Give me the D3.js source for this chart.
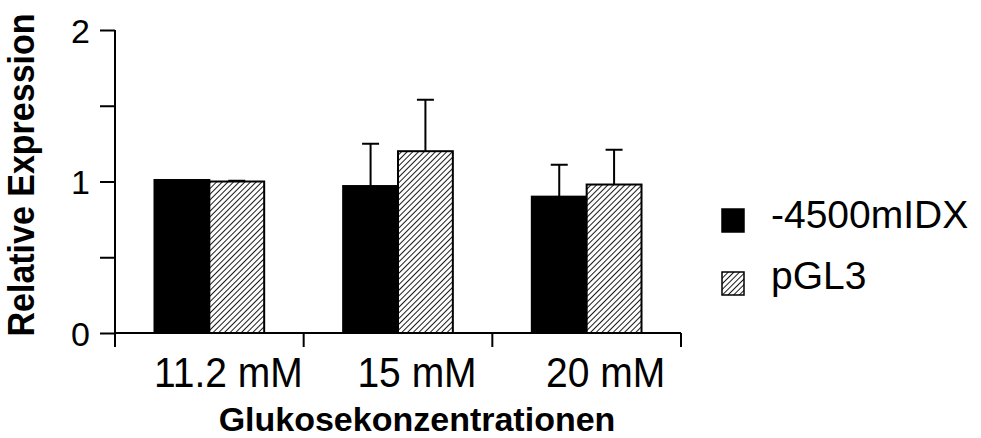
<!DOCTYPE html>
<html>
<head>
<meta charset="utf-8">
<script src="https://cdn.jsdelivr.net/npm/d3@7"></script>
<style>
  body { margin: 0; background: #fff; }
  text { font-family: "Liberation Sans", Arial, sans-serif; fill: #000; }
</style>
</head>
<body>
<div id="chart"></div>
<script>
// data
const categories = ["11.2 mM", "15 mM", "20 mM"];
const seriesNames = ["-4500mIDX", "pGL3"];
const idxValues = [1.01, 0.97, 0.90];
const idxErrors = [0.0, 0.28, 0.21];
const pglValues = [1.00, 1.20, 0.98];
const pglErrors = [0.005, 0.34, 0.23];
const yTicks = [0, 1, 2];
const yMinorTicks = [0.5, 1.5];

const width = 981, height = 438;
const margin = {top: 30, right: 300, bottom: 105, left: 115};
const labelShift = 19; // category labels sit a bit right of the band centre

const svg = d3.select("#chart")
  .append("svg")
  .attr("width", width)
  .attr("height", height);

// hatch pattern for pGL3
const defs = svg.append("defs");
const pat = defs.append("pattern")
  .attr("id", "hatch")
  .attr("patternUnits", "userSpaceOnUse")
  .attr("width", 4)
  .attr("height", 4)
  .attr("patternTransform", "rotate(45)");
pat.append("rect").attr("width", 4).attr("height", 4).attr("fill", "#fff");
pat.append("line")
  .attr("x1", 0).attr("y1", 0).attr("x2", 0).attr("y2", 4)
  .attr("stroke", "#000").attr("stroke-width", 1.8);

const rows = categories.map((c, i) => ({
  cat: c,
  vals: [
    {s: seriesNames[0], v: idxValues[i], e: idxErrors[i]},
    {s: seriesNames[1], v: pglValues[i], e: pglErrors[i]}
  ]
}));

/*
  Scales
*/
let yScale = d3.scaleLinear()
  .domain([0, 2])
  .range([height - margin.bottom, margin.top]);

let xScale = d3.scaleBand()
  .domain(categories)
  .range([margin.left, width - margin.right])
  .padding(0);

let x1 = d3.scaleBand()
  .domain(seriesNames)
  .range([0, xScale.bandwidth()])
  .paddingInner(0)
  .paddingOuter(0.72);

const fills = {"-4500mIDX": "#000", "pGL3": "url(#hatch)"};

/*
  Axes
*/
const yAxis = svg.append("g")
  .attr("transform", `translate(${margin.left},0)`)
  .call(d3.axisLeft(yScale).tickValues(yTicks).tickSize(15).tickPadding(10).tickFormat(d3.format("d")));
svg.append("g")
  .attr("transform", `translate(${margin.left},0)`)
  .call(d3.axisLeft(yScale).tickValues(yMinorTicks).tickSize(15).tickFormat(""))
  .select(".domain").remove();

const xAxis = svg.append("g")
  .attr("transform", `translate(0,${height - margin.bottom})`)
  .call(d3.axisBottom(xScale).tickSize(0));

// x ticks sit at the band edges
xAxis.selectAll(".edge")
  .data([margin.left, ...categories.map(c => xScale(c) + xScale.bandwidth())])
  .enter()
  .append("line")
  .attr("class", "edge")
  .attr("x1", d => d).attr("x2", d => d)
  .attr("y1", 0).attr("y2", 14)
  .attr("stroke", "#000").attr("stroke-width", 2);

svg.selectAll(".domain").attr("stroke", "#000").attr("stroke-width", 2);
yAxis.select(".domain").attr("d", `M0,${yScale(2)}H0V${yScale(0)}`);
xAxis.select(".domain").attr("d", `M${margin.left},0H${width - margin.right}`);

svg.selectAll(".tick line").attr("stroke", "#000").attr("stroke-width", 2);

yAxis.selectAll(".tick text")
  .attr("font-size", "34px")
  .attr("font-family", "Liberation Sans, Arial, sans-serif")
  .attr("dy", "0.36em");

xAxis.selectAll(".tick text")
  .attr("font-size", "39px")
  .attr("font-family", "Liberation Sans, Arial, sans-serif")
  .attr("dy", 0)
  .attr("y", 50)
  .attr("transform", `translate(${labelShift},0) scale(1,1.08)`);

/*
  Bars
*/
const groups = svg.selectAll(".grp")
  .data(rows)
  .enter()
  .append("g")
  .attr("class", "grp")
  .attr("transform", d => `translate(${xScale(d.cat)},0)`);

// error bars (upper only), drawn under the bars
groups.selectAll(".err")
  .data(d => d.vals)
  .enter()
  .append("path")
  .attr("class", "err")
  .attr("fill", "none")
  .attr("stroke", "#000")
  .attr("stroke-width", 2)
  .attr("d", d => {
    const cx = x1(d.s) + x1.bandwidth() / 2;
    const top = yScale(d.v + d.e);
    return `M${cx},${yScale(d.v)}V${top}M${cx - 8.5},${top}H${cx + 8.5}`;
  });

groups.selectAll(".bar")
  .data(d => d.vals)
  .enter()
  .append("rect")
  .attr("class", "bar")
  .attr("x", d => x1(d.s))
  .attr("y", d => yScale(d.v))
  .attr("width", x1.bandwidth())
  .attr("height", d => yScale(0) - yScale(d.v))
  .attr("fill", d => fills[d.s])
  .attr("stroke", "#000")
  .attr("stroke-width", 2);

/*
  Titles
*/
svg.append("text")
  .attr("x", (margin.left + width - margin.right) / 2 + labelShift)
  .attr("y", 431)
  .attr("text-anchor", "middle")
  .attr("font-weight", "bold")
  .attr("font-size", "34px")
  .text("Glukosekonzentrationen");

svg.append("text")
  .attr("transform", `translate(34,175) rotate(-90) scale(1,1.06)`)
  .attr("text-anchor", "middle")
  .attr("font-weight", "bold")
  .attr("font-size", "34px")
  .text("Relative Expression");

/*
  Legend
*/
const legend = svg.selectAll(".leg")
  .data(seriesNames)
  .enter()
  .append("g")
  .attr("class", "leg")
  .attr("transform", (d, i) => `translate(722,${209 + i * 63})`);

legend.append("rect")
  .attr("width", 22).attr("height", 23)
  .attr("fill", d => fills[d])
  .attr("stroke", "#000").attr("stroke-width", 1.5);

legend.append("text")
  .attr("x", 49)
  .attr("y", (d, i) => i === 0 ? 19 : 17)
  .attr("font-size", "39px")
  .text(d => d);
</script>
</body>
</html>
